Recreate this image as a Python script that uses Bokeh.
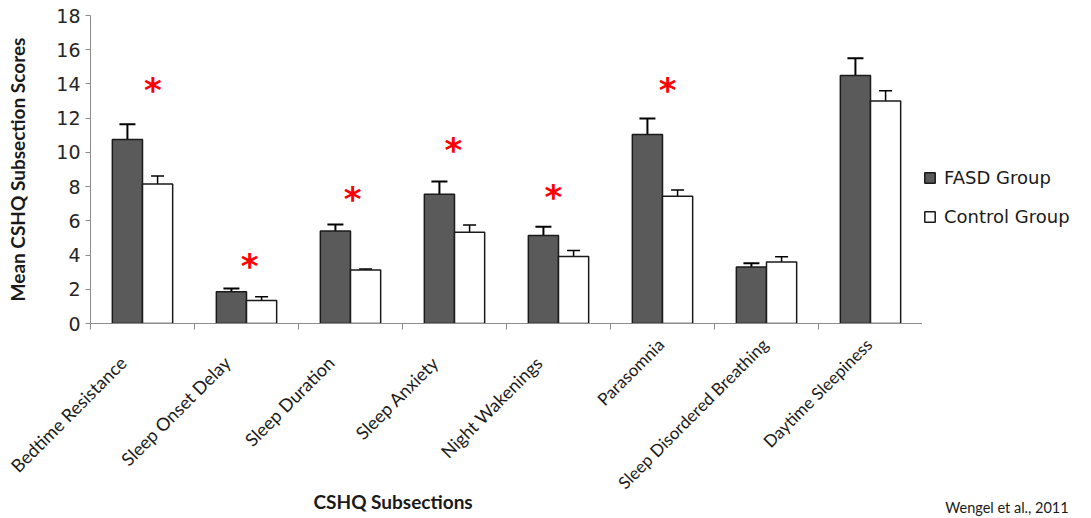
import numpy as np
from bokeh.plotting import figure
from bokeh.layouts import row
from bokeh.models import (ColumnDataSource, Whisker, TeeHead, FixedTicker, Legend,
                          LegendItem, Range1d, Title)
from bokeh.core.properties import value
from bokeh.embed import file_html
from bokeh.resources import INLINE

categories = ["Bedtime Resistance", "Sleep Onset Delay", "Sleep Duration", "Sleep Anxiety",
              "Night Wakenings", "Parasomnia", "Sleep Disordered Breathing", "Daytime Sleepiness"]
fasd_mean = [10.75, 1.85, 5.4, 7.55, 5.15, 11.05, 3.3, 14.5]
fasd_err = [0.9, 0.2, 0.38, 0.75, 0.5, 0.93, 0.22, 1.0]
control_mean = [8.15, 1.35, 3.12, 5.33, 3.92, 7.43, 3.6, 13.0]
control_err = [0.47, 0.22, 0.07, 0.42, 0.35, 0.37, 0.3, 0.6]
star_index = [0, 1, 2, 3, 4, 5]
star_y = [14.05, 3.77, 7.69, 10.55, 7.83, 14.05]
star_dx = [0.1, 0.03, 0.02, -0.01, -0.05, 0.05]
y_ticks = [0, 2, 4, 6, 8, 10, 12, 14, 16, 18]
series_names = ["FASD Group", "Control Group"]

FASD_FILL = "#5a5a5a"
EDGE = "#1a1a1a"
AXIS_GREY = "#8c8c8c"
TEXT = "#1a1a1a"

n = len(categories)
centers = np.arange(n) + 0.5
bar_w = 0.29
y_range = Range1d(0, 18)
CAT_PX = 104  # pixels per category


def bar_source(cats):
    cats = list(cats)
    fm = np.array([fasd_mean[i] for i in cats])
    fe = np.array([fasd_err[i] for i in cats])
    cm = np.array([control_mean[i] for i in cats])
    ce = np.array([control_err[i] for i in cats])
    c = centers[cats]
    return ColumnDataSource(dict(x_fasd=c - bar_w / 2, x_ctrl=c + bar_w / 2,
                                 fasd=fm, ctrl=cm, fasd_up=fm + fe, fasd_lo=fm - fe,
                                 ctrl_up=cm + ce, ctrl_lo=cm - ce))


def draw_bars(fig, src):
    r1 = fig.vbar(x="x_fasd", top="fasd", bottom=0, width=bar_w, source=src,
                  fill_color=FASD_FILL, line_color=EDGE, line_width=1.5)
    r2 = fig.vbar(x="x_ctrl", top="ctrl", bottom=0, width=bar_w, source=src,
                  fill_color="white", line_color=EDGE, line_width=1.5)
    return r1, r2


def build(x_lo, x_hi, cats, border_left, with_y, label_shift, label_standoff, label_size):
    cats = list(cats)
    frame_w = int(round((x_hi - x_lo) * CAT_PX))
    fig = figure(width=border_left + frame_w, height=518, x_range=Range1d(x_lo, x_hi),
                 y_range=y_range, y_axis_location="left" if with_y else None,
                 output_backend="svg", toolbar_location=None,
                 min_border_left=border_left, min_border_right=0,
                 min_border_top=15, min_border_bottom=194)
    fig.grid.visible = False
    fig.outline_line_color = None

    src = bar_source(cats)
    draw_bars(fig, src)
    fig.add_layout(Whisker(source=src, base="x_fasd", upper="fasd_up", lower="fasd_lo",
                           line_color="black", line_width=2,
                           upper_head=TeeHead(size=16, line_width=2, line_color="black"),
                           lower_head=TeeHead(size=16, line_width=2, line_color="black")))
    fig.add_layout(Whisker(source=src, base="x_ctrl", upper="ctrl_up", lower="ctrl_lo",
                           line_color="black", line_width=1.5,
                           upper_head=TeeHead(size=13, line_width=1.5, line_color="black"),
                           lower_head=TeeHead(size=13, line_width=1.5, line_color="black")))

    stars = [k for k, i in enumerate(star_index) if i in cats]
    if stars:
        star_src = ColumnDataSource(dict(
            x=[float(centers[star_index[k]]) + star_dx[k] for k in stars],
            y=[star_y[k] for k in stars], t=["*"] * len(stars)))
        fig.text(x="x", y="y", text="t", source=star_src, text_color="red",
                 text_font=value("DejaVu Sans"), text_font_style="bold", text_font_size="34px",
                 text_align="center", text_baseline="middle", y_offset=7)

    label_pos = [float(centers[i] + label_shift) for i in cats]
    boundaries = [b for b in range(n + 1) if x_lo <= b <= x_hi]
    xa = fig.xaxis[0]
    xa.ticker = FixedTicker(ticks=label_pos, minor_ticks=boundaries)
    xa.major_label_overrides = {lp: categories[i] for lp, i in zip(label_pos, cats)}
    xa.major_tick_line_color = None
    xa.major_tick_out = 6
    xa.minor_tick_out = 6
    xa.minor_tick_in = 0
    xa.minor_tick_line_color = AXIS_GREY
    xa.axis_line_color = AXIS_GREY
    xa.major_label_orientation = np.pi / 4
    xa.major_label_standoff = label_standoff
    xa.major_label_text_font = "Lato"
    xa.major_label_text_font_size = label_size
    xa.major_label_text_color = TEXT

    if with_y:
        ya = fig.yaxis[0]
        ya.ticker = FixedTicker(ticks=y_ticks)
        ya.major_tick_out = 5
        ya.major_tick_in = 0
        ya.minor_tick_line_color = None
        ya.major_tick_line_color = AXIS_GREY
        ya.axis_line_color = AXIS_GREY
        ya.major_label_standoff = 5
        ya.major_label_text_font = "DejaVu Sans"
        ya.major_label_text_font_size = "19px"
        ya.major_label_text_color = "#262626"
        ya.axis_label = "Mean CSHQ Subsection Scores"
        ya.axis_label_text_font = "Lato"
        ya.axis_label_text_font_style = "bold"
        ya.axis_label_text_font_size = "19px"
        ya.axis_label_text_color = TEXT
        ya.axis_label_standoff = 24
    return fig


# one continuous plot area split into two canvases (in the gap between bar groups)
# so that the long rotated category labels have room
split = 500 / CAT_PX
p1 = build(0, split, range(0, 5), 90, True, -0.1875, 30, "18px")
p1.add_layout(Title(text="CSHQ Subsections", align="left", offset=223, standoff=0,
                    text_font="Lato", text_font_style="bold", text_font_size="19px",
                    text_color=TEXT), "below")
p2 = build(split, n, range(5, 8), 0, False, -0.015625, 12, "17px")

# legend and source note panel
p3 = figure(width=169, height=518, x_range=Range1d(0, n), y_range=y_range,
            y_axis_location=None, output_backend="svg",
            toolbar_location=None, min_border=0, min_border_top=15, min_border_bottom=194)
p3.grid.visible = False
p3.outline_line_color = None
d1, d2 = draw_bars(p3, bar_source(range(n)))
d1.visible = False
d2.visible = False
legend = Legend(items=[LegendItem(label=series_names[0], renderers=[d1]),
                       LegendItem(label=series_names[1], renderers=[d2])],
                location=(1, 96), orientation="vertical",
                glyph_width=13, glyph_height=13, label_standoff=8, spacing=18,
                padding=5, margin=0, border_line_color=None, background_fill_alpha=0,
                label_text_font="DejaVu Sans", label_text_font_size="18px",
                label_text_color=TEXT, label_height=20)
p3.add_layout(legend)

ax3 = p3.xaxis[0]
ax3.ticker = FixedTicker(ticks=[])
ax3.axis_line_color = None
ax3.major_tick_line_color = None
ax3.minor_tick_line_color = None
ax3.major_tick_out = 0
ax3.major_label_standoff = 0
ax3.axis_label = "Wengel et al., 2011"
ax3.axis_label_text_font = "Lato"
ax3.axis_label_text_font_style = "normal"
ax3.axis_label_text_font_size = "14.5px"
ax3.axis_label_text_color = TEXT
ax3.axis_label_standoff = 175

layout = row(p1, p2, p3, spacing=0)
open("out.html", "w").write(file_html(layout, INLINE))
